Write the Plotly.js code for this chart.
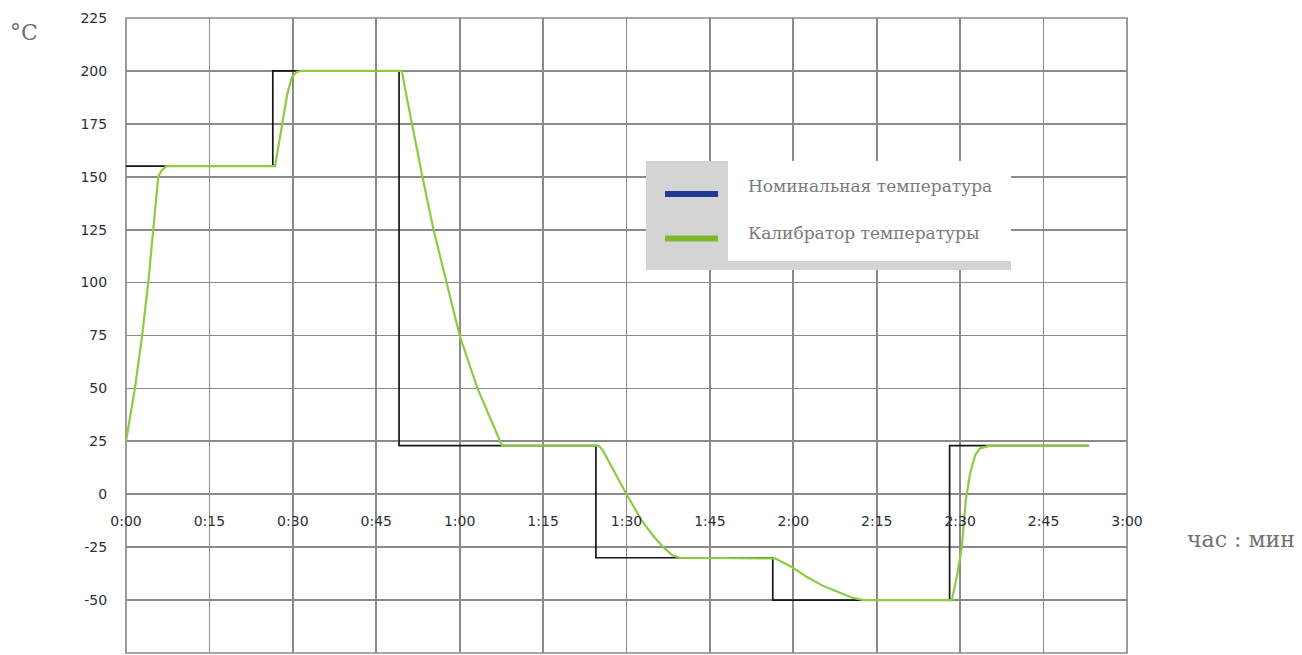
<!DOCTYPE html>
<html>
<head>
<meta charset="utf-8">
<script src="https://cdn.plot.ly/plotly-3.0.1.min.js"></script>
<style>html,body{margin:0;padding:0;background:#fff;}#chart{width:1302px;height:655px;}</style>
</head>
<body>
<div id="chart"></div>
<script>
// Time in minutes, temperature in °C
const nominalTime = [0, 26.4, 49.1, 84.5, 116.3, 148.1, 173.1];
const nominalTemp = [155, 200, 23, -30, -50, 23, 23];

const calibratorTime = [0, 1.6, 2.9, 4.0, 4.9, 5.8, 6.4, 7.3, 26.8, 27.1, 27.7, 28.3, 29.0, 29.8, 30.7, 31.5,
  49.6, 50.3, 51.4, 53.3, 55.3, 57.6, 60.0, 63.2, 65.4, 66.8, 67.6, 85.0, 85.8, 87.0, 88.5, 90.0, 92.7, 94.6, 96.6, 98.3, 99.6,
  116.7, 119.8, 122.4, 125.4, 128.4, 130.5, 132.6, 148.5, 149.4, 150.3, 151.0, 151.8, 152.7, 153.6, 155.4, 173.1];
const calibratorTemp = [25, 50, 75, 100, 125, 150, 153, 155, 155, 159.4, 169, 178, 189, 197, 199.5, 200,
  200, 190, 175, 150, 125, 100, 75, 50, 37, 28, 23, 23, 20.5, 14.6, 7, 0, -12.2, -19, -25, -29, -30,
  -30.3, -34.5, -39, -43.4, -46.8, -48.8, -50, -50, -39, -25, -3, 10, 18.5, 21.7, 23, 23];

const xTickVals = [0, 15, 30, 45, 60, 75, 90, 105, 120, 135, 150, 165, 180];
const xTickText = ['0:00', '0:15', '0:30', '0:45', '1:00', '1:15', '1:30', '1:45', '2:00', '2:15', '2:30', '2:45', '3:00'];
const yTickVals = [225, 200, 175, 150, 125, 100, 75, 50, 25, 0, -25, -50, -75];
const yTickText = ['225', '200', '175', '150', '125', '100', '75', '50', '25', '0', '-25', '-50', '-75'];

const seriesNames = ['Номинальная температура', 'Калибратор температуры'];
const legendColors = ['#1f3a93', '#7cba2c'];

// pixel -> paper helpers (layout geometry)
const L = 126, T = 18, W = 1001, H = 635;
const px = v => (v - L) / W;
const py = v => (T + H - v) / H;

const traces = [
  {x: nominalTime, y: nominalTemp, type: 'scatter', mode: 'lines', name: seriesNames[0],
   line: {color: '#161616', width: 1.7, shape: 'hv'}, hoverinfo: 'skip'},
  {x: calibratorTime, y: calibratorTemp, type: 'scatter', mode: 'lines', name: seriesNames[1],
   line: {color: '#8ccb44', width: 2.2}, hoverinfo: 'skip'}
];

const serif = 'DejaVu Serif, Liberation Serif, serif';
const tickFont = {family: 'DejaVu Sans, sans-serif', size: 14, color: '#2e2e3c'};
const layout = {
  width: 1302, height: 655,
  margin: {l: L, r: 1302 - L - W, t: T, b: 655 - T - H},
  paper_bgcolor: '#ffffff', plot_bgcolor: '#ffffff',
  showlegend: false,
  xaxis: {
    range: [0, 180], tickvals: xTickVals, ticktext: xTickText,
    anchor: 'free', position: 0.25, showline: false, zeroline: false,
    showgrid: true, gridcolor: '#8a8a8a', gridwidth: 1.7,
    ticks: '', ticklabelstandoff: 17, tickfont: tickFont
  },
  yaxis: {
    range: [-75, 225], tickvals: yTickVals, ticktext: yTickText,
    showline: false, zeroline: false,
    showgrid: true, gridcolor: '#8a8a8a', gridwidth: 1.7,
    ticks: 'outside', ticklen: 15, tickcolor: 'rgba(0,0,0,0)', tickfont: tickFont
  },
  shapes: [
    {type: 'rect', xref: 'paper', yref: 'paper', x0: 0, x1: 1, y0: 0, y1: 1,
     line: {color: '#8a8a8a', width: 1.7}, layer: 'below'},
    {type: 'rect', xref: 'paper', yref: 'paper', x0: px(646), x1: px(1011), y0: py(270), y1: py(161),
     fillcolor: '#d4d4d4', line: {width: 0}, layer: 'above'},
    {type: 'rect', xref: 'paper', yref: 'paper', x0: px(728), x1: px(1011), y0: py(261), y1: py(161),
     fillcolor: '#ffffff', line: {width: 0}, layer: 'above'},
    {type: 'line', xref: 'paper', yref: 'paper', x0: px(665), x1: px(718), y0: py(194), y1: py(194),
     line: {color: legendColors[0], width: 6}, layer: 'above'},
    {type: 'line', xref: 'paper', yref: 'paper', x0: px(665), x1: px(718), y0: py(238.5), y1: py(238.5),
     line: {color: legendColors[1], width: 6}, layer: 'above'}
  ],
  annotations: [
    {xref: 'paper', yref: 'paper', x: px(746), y: py(186), xanchor: 'left', yanchor: 'middle',
     text: seriesNames[0], showarrow: false, font: {family: serif, size: 17, color: '#7a7a7a'}},
    {xref: 'paper', yref: 'paper', x: px(746), y: py(233), xanchor: 'left', yanchor: 'middle',
     text: seriesNames[1], showarrow: false, font: {family: serif, size: 17, color: '#7a7a7a'}},
    {xref: 'paper', yref: 'paper', x: px(8), y: py(33), xanchor: 'left', yanchor: 'middle',
     text: '°C', showarrow: false, font: {family: serif, size: 22, color: '#707070'}},
    {xref: 'paper', yref: 'paper', x: px(1185), y: py(539), xanchor: 'left', yanchor: 'middle',
     text: 'час : мин', showarrow: false, font: {family: serif, size: 22, color: '#707070'}}
  ]
};

Plotly.newPlot('chart', traces, layout, {displayModeBar: false, staticPlot: true});
</script>
</body>
</html>
